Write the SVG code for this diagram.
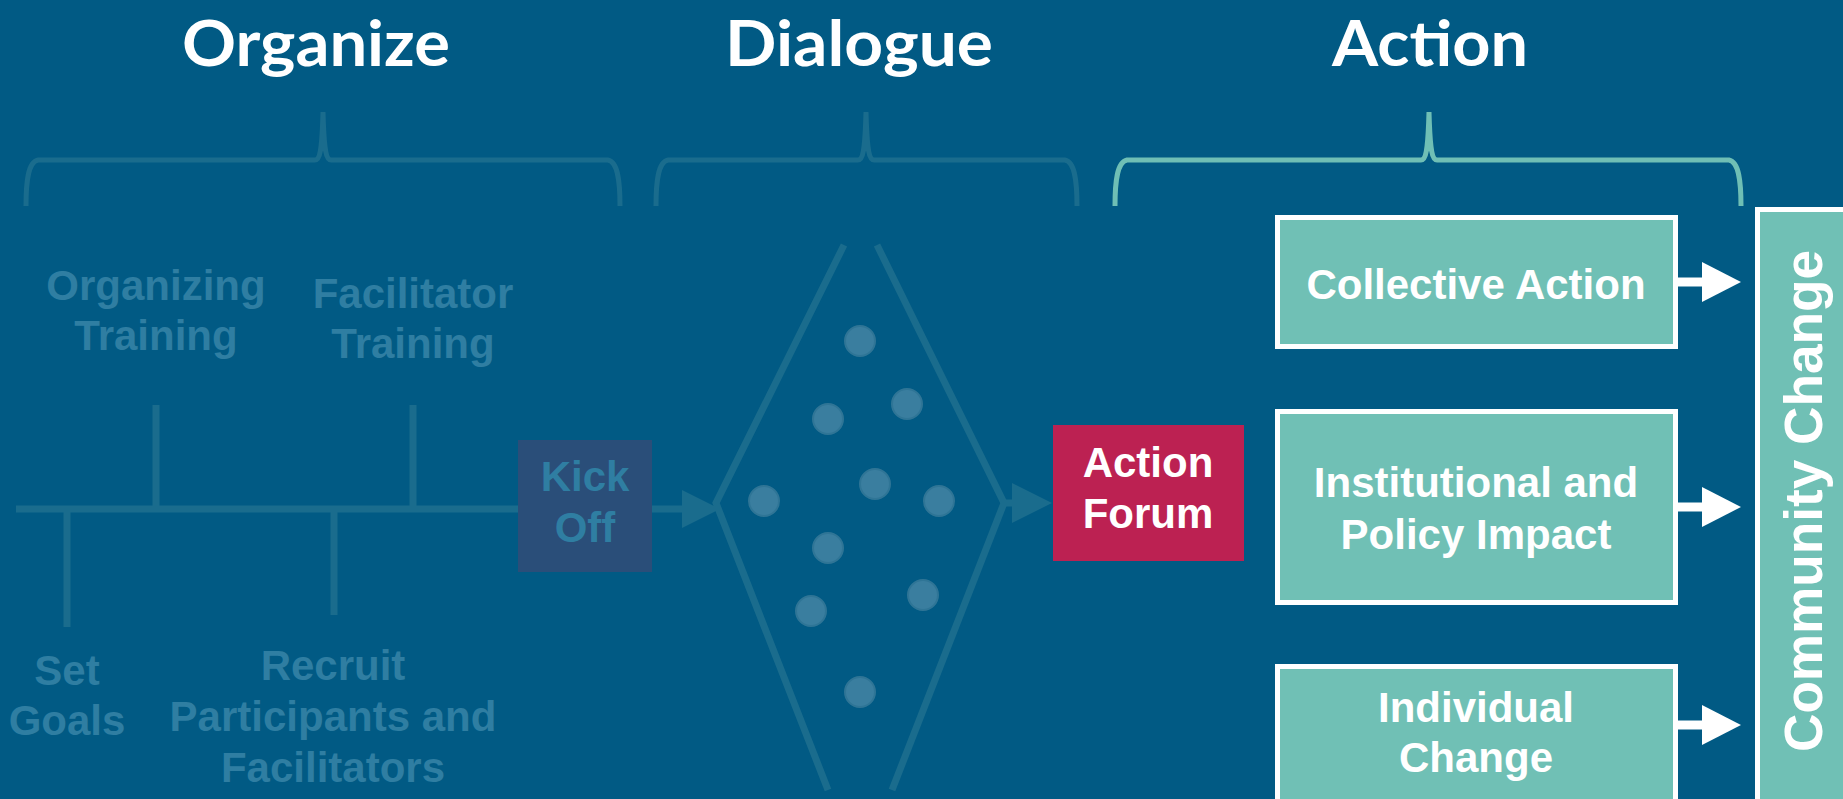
<svg xmlns="http://www.w3.org/2000/svg" width="1843" height="799" viewBox="0 0 1843 799">
<defs>
<style>
.title{font-family:Lato,"Open Sans",sans-serif;font-weight:bold;font-size:64px;fill:#ffffff;text-anchor:middle}
.faded{font-family:"Liberation Sans",Arial,sans-serif;font-weight:bold;font-size:42px;fill:#2f7ea2;text-anchor:middle}
.label{font-family:"Liberation Sans",Arial,sans-serif;font-weight:bold;font-size:42px;fill:#ffffff;text-anchor:middle}
.brace{fill:none;stroke:#1a6c8d;stroke-width:5}
.brace2{fill:none;stroke:#6fbfb5;stroke-width:5}
.tl{stroke:#1a6c8d;stroke-width:7;fill:none}
.dot{fill:#3a7e9f;stroke:#2f7596;stroke-width:2}
.box{fill:#70c0b5;stroke:#ffffff;stroke-width:5}
.wline{stroke:#ffffff;stroke-width:9}
</style>
</defs>
<rect width="1843" height="799" fill="#015a84"/>

<g id="titles">
<text class="title" x="316" y="66" textLength="268" lengthAdjust="spacingAndGlyphs">Organize</text>
<text class="title" x="859" y="66" textLength="268" lengthAdjust="spacingAndGlyphs">Dialogue</text>
<text class="title" x="1430" y="66" textLength="196" lengthAdjust="spacingAndGlyphs">Action</text>
</g>

<g id="braces">
<path class="brace" d="M26 206 C26 182 28 162 38 160 L315 160 C320 160 322 150 323 112 C324 150 326 160 331 160 L608 160 C618 162 620 182 620 206"/>
<path class="brace" d="M656 206 C656 182 658 162 668 160 L858 160 C863 160 865 150 866 112 C867 150 869 160 874 160 L1065 160 C1075 162 1077 182 1077 206"/>
<path class="brace2" d="M1115 206 C1115 182 1117 162 1127 160 L1421 160 C1426 160 1428 150 1429 112 C1430 150 1432 160 1437 160 L1729 160 C1739 162 1741 182 1741 206"/>
</g>

<g id="timeline">
<line class="tl" x1="16" y1="509" x2="518" y2="509"/>
<line class="tl" x1="156" y1="405" x2="156" y2="512"/>
<line class="tl" x1="413" y1="405" x2="413" y2="512"/>
<line class="tl" x1="67" y1="506" x2="67" y2="627"/>
<line class="tl" x1="334" y1="506" x2="334" y2="615"/>
</g>

<g id="organizing-training">
<text class="faded" x="156" y="300">Organizing</text>
<text class="faded" x="156" y="350">Training</text>
</g>
<g id="facilitator-training">
<text class="faded" x="413" y="308">Facilitator</text>
<text class="faded" x="413" y="358">Training</text>
</g>
<g id="set-goals">
<text class="faded" x="67" y="685">Set</text>
<text class="faded" x="67" y="735">Goals</text>
</g>
<g id="recruit">
<text class="faded" x="333" y="680">Recruit</text>
<text class="faded" x="333" y="731">Participants and</text>
<text class="faded" x="333" y="782">Facilitators</text>
</g>

<g id="kick-off">
<rect x="518" y="440" width="134" height="132" fill="#2a4e79"/>
<text class="faded" x="585" y="491">Kick</text>
<text class="faded" x="585" y="542">Off</text>
</g>

<g id="dialogue">
<polyline class="tl" points="844,245 716,503 828,790"/>
<polyline class="tl" points="877,245 1004,503 892,790"/>
<circle class="dot" cx="860" cy="341" r="15"/>
<circle class="dot" cx="828" cy="419" r="15"/>
<circle class="dot" cx="907" cy="404" r="15"/>
<circle class="dot" cx="764" cy="501" r="15"/>
<circle class="dot" cx="875" cy="484" r="15"/>
<circle class="dot" cx="939" cy="501" r="15"/>
<circle class="dot" cx="828" cy="548" r="15"/>
<circle class="dot" cx="923" cy="595" r="15"/>
<circle class="dot" cx="811" cy="611" r="15"/>
<circle class="dot" cx="860" cy="692" r="15"/>
</g>

<g id="action-forum">
<rect x="1053" y="425" width="191" height="136" fill="#bc2152"/>
<text class="label" x="1148" y="477">Action</text>
<text class="label" x="1148" y="528">Forum</text>
</g>

<g id="collective-action">
<rect class="box" x="1277.5" y="217.5" width="398" height="129"/>
<text class="label" x="1476" y="299">Collective Action</text>
</g>
<g id="institutional">
<rect class="box" x="1277.5" y="411.5" width="398" height="191"/>
<text class="label" x="1476" y="497">Institutional and</text>
<text class="label" x="1476" y="549">Policy Impact</text>
</g>
<g id="individual-change">
<rect class="box" x="1277.5" y="666.5" width="398" height="160"/>
<text class="label" x="1476" y="722">Individual</text>
<text class="label" x="1476" y="772">Change</text>
</g>
<g id="community-change">
<rect class="box" x="1757.5" y="209.5" width="100" height="620"/>
<text class="label" transform="translate(1822,501) rotate(-90)" x="0" y="0" style="font-size:54px" textLength="502" lengthAdjust="spacingAndGlyphs">Community Change</text>
</g>

<g id="connectors">
<line class="tl" x1="652" y1="509" x2="690" y2="509"/>
<polygon points="682,490 720,509 682,528" fill="#1a6c8d"/>
<line class="tl" x1="1004" y1="503" x2="1016" y2="503"/>
<polygon points="1012,483 1052,503 1012,523" fill="#1a6c8d"/>
<line class="wline" x1="1678" y1="282" x2="1706" y2="282"/>
<polygon points="1702,262 1741,282 1702,302" fill="#ffffff"/>
<line class="wline" x1="1678" y1="507" x2="1706" y2="507"/>
<polygon points="1702,487 1741,507 1702,527" fill="#ffffff"/>
<line class="wline" x1="1678" y1="725" x2="1706" y2="725"/>
<polygon points="1702,705 1741,725 1702,745" fill="#ffffff"/>
</g>
</svg>
